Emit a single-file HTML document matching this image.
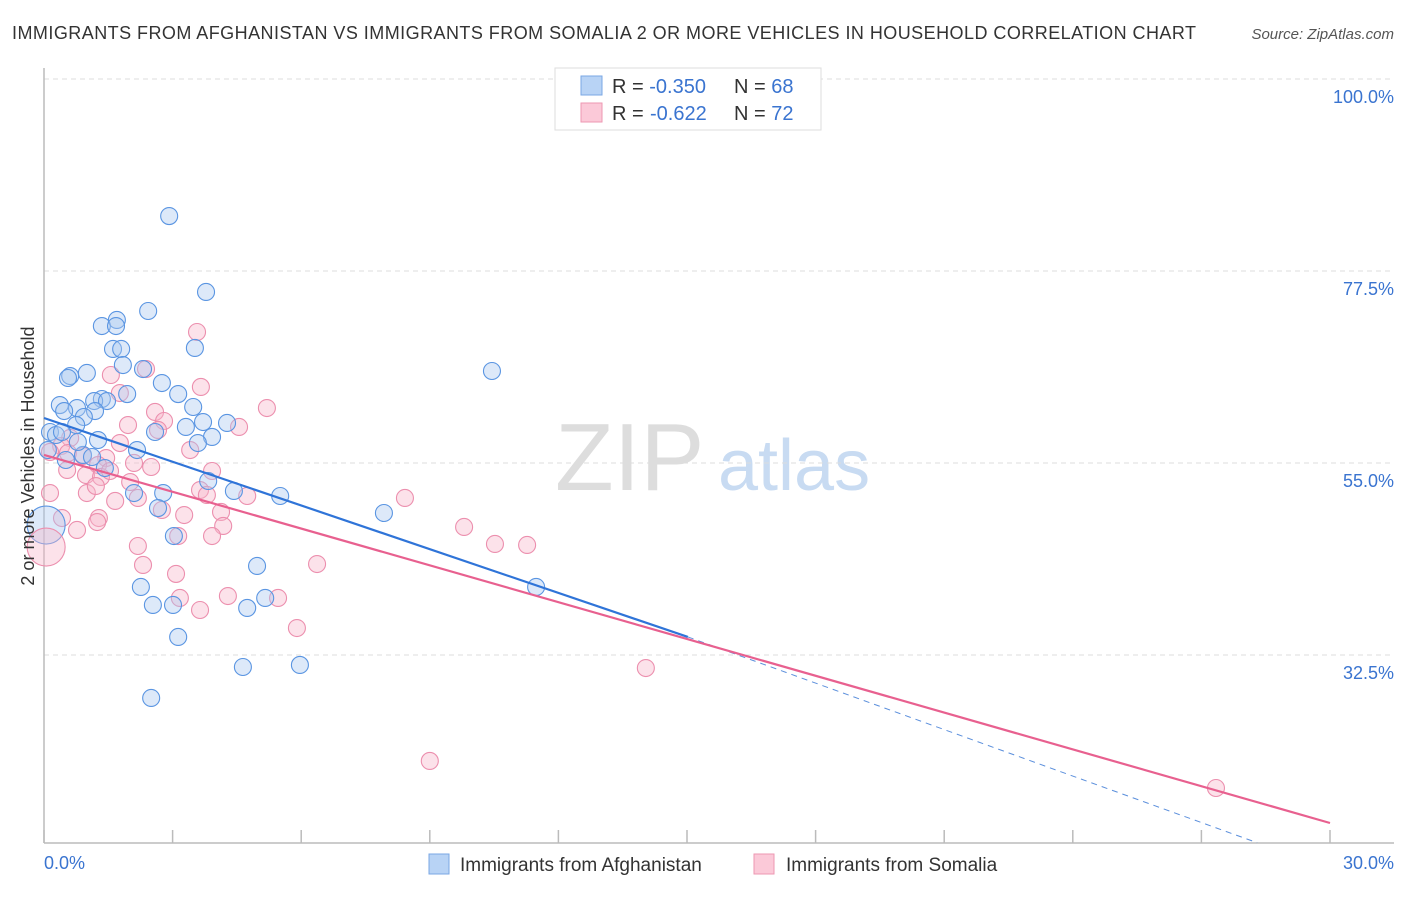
<!DOCTYPE html>
<html><head><meta charset="utf-8"><style>
body{margin:0;background:#fff;font-family:"Liberation Sans",sans-serif;}
svg text{font-family:"Liberation Sans",sans-serif;}
</style></head><body>
<svg id="chart" width="1406" height="892" viewBox="0 0 1406 892">
<text x="12" y="39" font-size="18" fill="#333" textLength="1184" lengthAdjust="spacing">IMMIGRANTS FROM AFGHANISTAN VS IMMIGRANTS FROM SOMALIA 2 OR MORE VEHICLES IN HOUSEHOLD CORRELATION CHART</text>
<text x="1394" y="39" font-size="15" fill="#555" text-anchor="end" font-style="italic">Source: ZipAtlas.com</text>
<g>
<text x="555" y="490" font-size="96" fill="#ddd" font-family="Liberation Serif">ZIP</text>
<text x="718" y="490" font-size="72" fill="#c8dbf2">atlas</text>
</g>
<g id="grid"></g>
<g id="marks"></g>
<text transform="translate(34,456) rotate(-90)" font-size="18" fill="#333" text-anchor="middle">2 or more Vehicles in Household</text>
<text x="44" y="869" font-size="18" fill="#3a74d0">0.0%</text>
<text x="1394" y="869" font-size="18" fill="#3a74d0" text-anchor="end">30.0%</text>
<g>
<rect x="555" y="68" width="266" height="62" fill="#fff" stroke="#ddd"/>
<rect x="581" y="76" width="21" height="19" fill="#b8d3f5" stroke="#7aa7e4"/>
<rect x="581" y="103" width="21" height="19" fill="#fbc9d8" stroke="#ee97b2"/>
<text x="612" y="93" font-size="20" fill="#333">R = <tspan fill="#3a74d0">-0.350</tspan><tspan x="734">N = </tspan><tspan fill="#3a74d0">68</tspan></text>
<text x="612" y="120" font-size="20" fill="#333">R = <tspan fill="#3a74d0" x="650">-0.622</tspan><tspan x="734">N = </tspan><tspan fill="#3a74d0">72</tspan></text>
</g>
<g>
<rect x="429" y="854" width="20" height="20" fill="#b8d3f5" stroke="#7aa7e4"/>
<text x="460" y="871" font-size="19" fill="#333">Immigrants from Afghanistan</text>
<rect x="754" y="854" width="20" height="20" fill="#fbc9d8" stroke="#ee97b2"/>
<text x="786" y="871" font-size="19" fill="#333">Immigrants from Somalia</text>
</g>
</svg>
<script>
const yTicks=[100,77.5,55,32.5];
const yTickLabels=["100.0%","77.5%","55.0%","32.5%"];
const xTicks=[0,3,6,9,12,15,18,21,24,27,30];
const blueX=[2.92,3.78,2.43,1.70,1.35,1.68,3.52,1.61,1.80,1.84,2.31,0.61,1.00,0.56,2.75,3.13,1.94,1.35,1.17,1.47,3.48,0.37,0.77,0.47,1.19,0.93,3.71,4.27,3.31,0.75,2.59,0.14,0.28,3.92,3.59,1.26,2.17,0.91,1.12,1.42,3.83,4.43,2.78,5.51,2.10,2.66,7.93,3.03,4.97,2.26,11.48,5.16,2.54,3.01,4.74,3.13,4.64,5.97,2.50,10.45,0.42,0.79,0.51,0.09];
const blueY=[83.94,75.04,72.81,71.76,71.05,71.05,68.48,68.36,68.36,66.48,66.01,65.19,65.55,64.96,64.37,63.08,63.08,62.50,62.26,62.26,61.56,61.79,61.44,61.09,61.09,60.39,59.80,59.69,59.22,59.45,58.63,58.63,58.28,58.05,57.34,57.69,56.52,55.94,55.70,54.41,52.89,51.72,51.48,51.13,51.48,49.72,49.14,46.44,42.93,40.47,40.47,39.18,38.36,38.36,38.01,34.61,31.09,31.33,27.46,65.78,58.63,57.46,55.35,56.52];
const pinkX=[3.57,1.56,2.38,3.66,1.77,5.20,2.59,1.96,2.80,4.55,2.66,0.61,1.77,0.40,0.14,0.56,3.41,3.92,0.91,1.45,1.26,2.10,2.50,0.98,0.54,1.33,2.01,1.54,2.19,3.64,3.80,4.74,0.14,1.00,1.66,2.75,4.13,3.27,1.28,1.24,4.18,0.77,3.92,3.13,2.19,8.42,9.80,10.52,11.27,6.37,2.31,3.08,4.29,3.17,5.46,3.64,5.90,14.04,9.00,27.34,0.42,1.21];
const pinkY=[70.35,65.31,66.01,63.91,63.20,61.44,60.98,59.45,59.92,59.22,58.87,57.93,57.34,56.99,56.29,56.17,56.52,54.06,55.82,55.58,54.76,55.00,54.53,53.59,54.18,53.36,52.77,54.06,50.90,51.83,51.25,51.13,51.48,51.48,50.55,49.49,49.26,48.90,48.55,48.08,47.62,47.15,46.44,46.44,45.27,50.90,47.50,45.51,45.39,43.16,43.05,42.00,39.41,39.18,39.18,37.77,35.66,30.97,20.08,16.91,48.55,52.30];
const bigX=[0.05,0.05];
const bigY=[47.73,45.15];
const blueFit=[60.27,-1.708]; // intercept, slope
const pinkFit=[55.94,-1.4377];
const blueSolidEnd=15.02;
const blueDashEnd=[28.3,10.5];

const X0=44,X1=1330,YB=843;
function sx(v){return X0+(v/30)*(X1-X0);}
function sy(v){return 79+(100-v)*8.533;}
const NS="http://www.w3.org/2000/svg";
function mk(tag,attrs,parent){const e=document.createElementNS(NS,tag);for(const k in attrs)e.setAttribute(k,attrs[k]);parent.appendChild(e);return e;}
const grid=document.getElementById('grid'),marks=document.getElementById('marks');
yTicks.forEach((t,i)=>{
  const l=mk('line',{x1:X0,x2:1394,y1:sy(t),y2:sy(t),stroke:'#ddd','stroke-dasharray':'5,4'},grid);
  
  
  const tx=mk('text',{x:1394,y:sy(t)+24,'font-size':18,fill:'#3a74d0','text-anchor':'end'},grid);
  tx.textContent=yTickLabels[i];
  
  
});
const ya=mk('line',{x1:X0,x2:X0,y1:68,y2:YB,stroke:'#bbb','stroke-width':1.5},grid);


const xa=mk('line',{x1:X0,x2:1394,y1:YB,y2:YB,stroke:'#bbb','stroke-width':1.5},grid);


xTicks.forEach(t=>{
  const l=mk('line',{x1:sx(t),x2:sx(t),y1:830,y2:YB,stroke:'#bbb','stroke-width':1.5},grid);
  
  
});
function dots(xs,ys,r,fill,stroke,name){
  xs.forEach((x,i)=>{
    const c=mk('circle',{cx:sx(x),cy:sy(ys[i]),r:r,fill:fill,'fill-opacity':0.4,stroke:stroke,'stroke-width':1.1},marks);
    
    
  });
}
dots(pinkX,pinkY,8.5,'#f7b6ca','#ec8fae','point-somalia');
dots(blueX,blueY,8.5,'#a9c9f1','#5a95e2','point-afghanistan');
const b1=mk('circle',{cx:sx(bigX[0]),cy:sy(bigY[0]),r:19,fill:'#a9c9f1','fill-opacity':0.4,stroke:'#5a95e2','stroke-width':1.1},marks);


const b2=mk('circle',{cx:sx(bigX[1]),cy:sy(bigY[1]),r:19,fill:'#f7b6ca','fill-opacity':0.4,stroke:'#ec8fae','stroke-width':1.1},marks);


const bd=mk('line',{x1:sx(blueSolidEnd),y1:sy(blueFit[0]+blueFit[1]*blueSolidEnd),x2:sx(blueDashEnd[0]),y2:sy(blueDashEnd[1]),stroke:'#5b8fdc','stroke-width':1,'stroke-dasharray':'6,5'},marks);


const pl=mk('line',{x1:sx(0),y1:sy(pinkFit[0]),x2:sx(30),y2:sy(pinkFit[0]+pinkFit[1]*30),stroke:'#e8608f','stroke-width':2.2},marks);


const bl=mk('line',{x1:sx(0),y1:sy(blueFit[0]),x2:sx(blueSolidEnd),y2:sy(blueFit[0]+blueFit[1]*blueSolidEnd),stroke:'#2f74d8','stroke-width':2.2},marks);


</script>
</body></html>
